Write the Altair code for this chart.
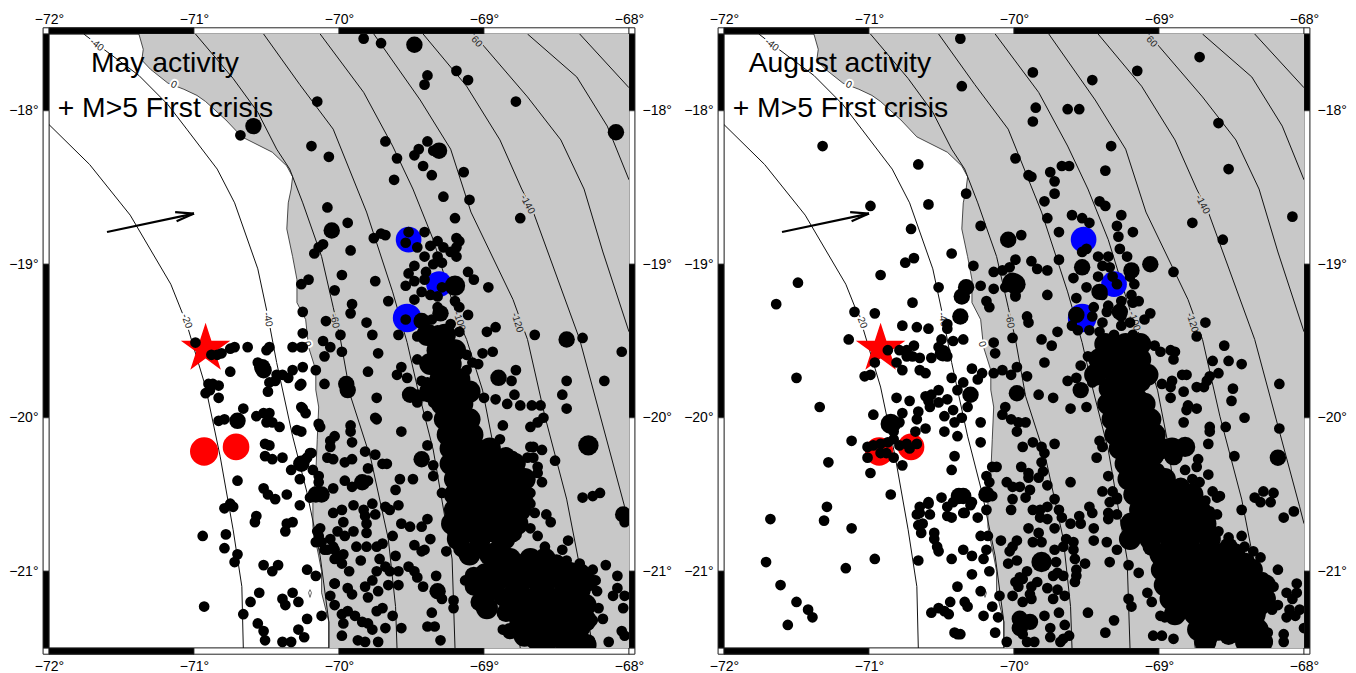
import altair as alt
import pandas as pd

coast = [(-71.38,-17.5),(-71.35,-17.60),(-71.36,-17.67),(-71.30,-17.73),(-71.18,-17.82),(-71.07,-17.86),(-70.98,-17.90),(-70.92,-17.94),(-70.78,-18.06),(-70.67,-18.17),(-70.46,-18.27),(-70.36,-18.36),(-70.32,-18.43),(-70.33,-18.51),(-70.35,-18.60),(-70.36,-18.77),(-70.32,-18.95),(-70.29,-19.10),(-70.29,-19.25),(-70.23,-19.36),(-70.21,-19.54),(-70.16,-19.69),(-70.16,-19.82),(-70.14,-19.93),(-70.15,-20.14),(-70.16,-20.36),(-70.18,-20.53),(-70.18,-20.71),(-70.16,-20.81),(-70.14,-20.90),(-70.12,-21.0),(-70.12,-21.14),(-70.07,-21.33),(-70.07,-21.5)]
island = [(-70.20,-21.12),(-70.19,-21.14),(-70.20,-21.17),(-70.21,-21.14),(-70.20,-21.12)]

contours = {
 "-20": [(-72.0,-18.09),(-71.72,-18.35),(-71.44,-18.68),(-71.16,-19.13),(-71.05,-19.39),(-70.92,-19.80),(-70.82,-20.25),(-70.73,-20.73),(-70.67,-21.10),(-70.66,-21.5)],
 "-40": [(-71.76,-17.5),(-71.65,-17.58),(-71.38,-17.77),(-71.18,-17.96),(-71.05,-18.12),(-70.84,-18.38),(-70.72,-18.60),(-70.56,-19.03),(-70.49,-19.34),(-70.43,-19.64),(-70.32,-20.12),(-70.22,-20.49),(-70.13,-20.90),(-70.07,-21.33),(-70.07,-21.5)],
 "-60": [(-70.99,-17.5),(-70.73,-17.79),(-70.56,-18.01),(-70.43,-18.25),(-70.34,-18.38),(-70.25,-18.60),(-70.12,-18.95),(-70.04,-19.28),(-69.99,-19.49),(-69.92,-19.86),(-69.78,-20.27),(-69.66,-20.79),(-69.61,-21.23),(-69.60,-21.5)],
 "-80": [(-70.52,-17.5),(-70.27,-17.83),(-70.04,-18.12),(-69.81,-18.66),(-69.63,-19.18),(-69.53,-19.51),(-69.46,-19.80),(-69.35,-20.21),(-69.22,-20.92),(-69.20,-21.5)],
 "-100": [(-70.13,-17.5),(-69.83,-17.88),(-69.63,-18.23),(-69.49,-18.51),(-69.35,-18.84),(-69.18,-19.36),(-69.12,-19.49),(-69.01,-19.82),(-68.94,-20.16),(-68.75,-21.5)],
 "-120": [(-69.76,-17.5),(-69.44,-17.93),(-69.23,-18.25),(-69.09,-18.66),(-68.80,-19.23),(-68.70,-19.49),(-68.58,-19.99),(-68.43,-20.53),(-68.35,-20.92),(-68.25,-21.5)],
 "-140": [(-69.42,-17.5),(-69.12,-17.84),(-68.89,-18.19),(-68.74,-18.51),(-68.66,-18.66),(-68.34,-19.49),(-68.03,-20.58),(-68.0,-20.69)],
 "-160": [(-69.07,-17.5),(-69.0,-17.58),(-68.70,-17.91),(-68.47,-18.19),(-68.31,-18.51),(-68.18,-18.92),(-68.0,-19.44)],
 "-180": [(-68.70,-17.5),(-68.36,-17.78),(-68.15,-18.10),(-68.0,-18.45)],
 "-200": [(-68.34,-17.5),(-68.0,-17.85)],
}
contour_labels = [
 ("-40",-71.67,-17.57,38,"white"),("0",-71.14,-17.83,25,"white"),("-20",-71.05,-19.37,70,"white"),
 ("-40",-70.49,-19.36,78,"white"),("-60",-70.03,-19.37,78,"#c8c8c8"),("0",-70.22,-19.52,75,"white"),
 ("-100",-69.17,-19.37,72,"#c8c8c8"),("-120",-68.77,-19.38,73,"#c8c8c8"),("-140",-68.70,-18.61,62,"#c8c8c8"),
 ("60",-69.05,-17.55,48,"#c8c8c8"),
]
arrow = {"shaft":[(-71.60,-18.79),(-71.0,-18.67)],"a":[(-71.13,-18.66),(-71.0,-18.67)],"b":[(-71.12,-18.72),(-71.0,-18.67)]}
blue_lon=[-69.52,-69.31,-69.53]; blue_lat=[-18.84,-19.13,-19.35]; blue_area=[660,660,820]
red_lon=[-70.93,-70.71]; red_lat=[-20.22,-20.19]; red_area=[800,710]
star_lon=[-70.92]; star_lat=[-19.55]
STAR="M0,-1L0.2245,-0.309L0.951,-0.309L0.363,0.118L0.588,0.809L0,0.382L-0.588,0.809L-0.363,0.118L-0.951,-0.309L-0.2245,-0.309Z"

may_small = [(-70.68,-18.16),(-70.15,-17.94),(-70.19,-18.23),(-70.07,-18.30),(-69.83,-17.53),(-69.71,-17.56),(-69.39,-17.77),(-69.41,-17.83),(-69.19,-17.74),(-69.11,-17.80),(-68.78,-17.94),(-69.68,-18.20),(-69.60,-18.31),(-69.39,-18.20),(-69.45,-18.25),(-69.48,-18.29),(-69.35,-18.26),(-69.42,-18.36),(-69.36,-18.42),(-69.14,-18.40),(-69.62,-18.45),(-69.28,-18.56),(-69.10,-18.58),(-70.08,-18.63),(-69.20,-18.70),(-68.75,-18.70),(-69.94,-18.73),(-69.76,-18.83),(-69.71,-18.80),(-69.68,-18.81),(-69.52,-18.79),(-69.54,-18.86),(-69.41,-18.79),(-69.46,-18.89),(-69.32,-18.85),(-69.37,-18.88),(-69.28,-18.89),(-69.19,-18.83),(-69.17,-18.85),(-69.19,-18.89),(-69.23,-18.92),(-69.19,-18.95),(-69.41,-18.95),(-69.32,-18.95),(-69.48,-19.01),(-69.29,-18.99),(-69.35,-19.00),(-69.52,-19.06),(-69.40,-19.05),(-69.48,-19.11),(-69.41,-19.10),(-69.11,-19.05),(-69.07,-19.10),(-68.97,-19.15),(-69.54,-19.14),(-69.29,-19.15),(-69.43,-19.18),(-69.37,-19.20),(-69.32,-19.21),(-69.48,-19.23),(-69.20,-19.24),(-69.17,-19.28),(-69.11,-19.33),(-69.32,-19.28),(-69.54,-19.36),(-69.36,-19.36),(-69.23,-19.39),(-69.32,-19.43),(-69.26,-19.46),(-69.17,-19.44),(-68.98,-19.44),(-68.92,-19.41),(-68.65,-19.46),(-68.32,-19.48),
(-70.17,-18.93),(-70.14,-18.89),(-70.11,-18.87),(-69.92,-18.91),(-70.21,-19.10),(-70.26,-19.13),(-69.98,-19.07),(-70.03,-19.17),(-69.75,-19.11),(-69.66,-19.24),(-69.91,-19.26),(-69.92,-19.32),(-69.81,-19.38),(-70.09,-19.37),(-70.25,-19.31),(-70.25,-19.45),(-69.99,-19.46),(-69.77,-19.46),(-69.59,-19.46),(-69.46,-19.47),
(-70.25,-19.54),(-70.11,-19.50),(-70.06,-19.54),(-70.10,-19.60),(-69.98,-19.57),(-69.73,-19.58),(-69.80,-19.70),(-70.25,-19.67),(-70.16,-19.69),(-70.10,-19.78),(-70.26,-19.78),(-69.74,-19.87),(-69.75,-20.0),(-69.74,-20.01),(-70.25,-19.94),(-70.14,-20.04),(-70.13,-20.06),(-70.26,-20.09),(-69.92,-20.05),(-69.92,-20.09),(-69.57,-20.09),(-70.03,-20.12),(-70.06,-20.15),(-70.06,-20.19),(-69.91,-20.16),(-69.82,-20.22),(-69.75,-20.24),(-70.19,-20.23),(-70.22,-20.26),(-70.25,-20.30),(-70.08,-20.26),(-70.04,-20.27),(-69.96,-20.29),(-69.91,-20.27),(-69.70,-20.30),(-69.67,-20.30),(-69.80,-20.33),(-69.39,-20.18),(-69.60,-19.72),(-69.57,-19.67),(-69.53,-19.74),(-69.46,-19.85),(-69.42,-19.86),(-69.46,-19.90),(-69.46,-19.62),(-69.41,-19.64),(-69.43,-19.76),(-69.39,-19.77),(-69.35,-19.90),(-69.39,-19.99),(-69.35,-20.31),(-69.35,-20.38),(-69.29,-20.49),(-68.78,-19.69),(-68.81,-19.76),(-68.94,-19.57),(-69.01,-19.58),(-69.12,-19.59),(-69.08,-19.64),(-69.04,-19.65),(-69.12,-19.69),(-68.92,-19.88),(-69.0,-19.87),(-68.79,-19.85),(-68.84,-19.91),(-68.75,-19.92),(-68.67,-19.92),(-68.61,-19.92),(-68.59,-20.0),(-68.63,-20.03),(-68.68,-20.06),(-68.43,-19.76),(-68.17,-19.76),(-68.46,-19.85),(-68.43,-19.94),(-68.05,-19.57),(-68.51,-20.28),(-68.66,-20.19),(-68.60,-20.21),(-68.68,-20.19),(-68.70,-20.26),(-68.66,-20.26),(-68.63,-20.32),(-68.63,-20.36),(-68.60,-20.42),(-68.68,-20.49),(-68.32,-20.52),(-68.25,-20.51),(-68.20,-20.49),(-68.03,-20.68),(-68.68,-20.56),(-68.65,-20.62),(-68.57,-20.63),(-68.54,-20.68),(-68.68,-20.72),(-68.63,-20.77),(-68.42,-20.80),(-68.46,-20.86),(-68.58,-20.84),(-68.87,-20.05),(-68.89,-20.14),(-68.80,-20.25),(-68.84,-20.24),(-68.75,-20.30),
(-70.99,-19.51),(-70.88,-19.59),(-70.84,-19.59),(-70.81,-19.58),(-70.75,-19.55),(-70.72,-19.54),(-70.63,-19.54),(-70.50,-19.56),(-70.48,-19.54),(-70.32,-19.54),(-70.26,-19.54),(-70.75,-19.70),(-70.56,-19.64),(-70.43,-19.72),(-70.39,-19.72),(-70.32,-19.69),(-70.35,-19.74),(-70.48,-19.77),(-70.44,-19.76),(-70.27,-19.79),(-70.49,-19.83),(-70.90,-19.78),(-70.87,-19.78),(-70.83,-19.79),(-70.89,-19.82),(-70.92,-19.84),(-70.83,-19.87),(-70.66,-19.94),(-70.26,-19.93),(-70.23,-19.97),(-70.57,-19.99),(-70.52,-19.97),(-70.48,-19.97),(-70.83,-20.02),(-70.79,-20.01),(-70.50,-20.03),(-70.46,-20.03),(-70.41,-20.06),(-70.29,-20.08),(-70.51,-20.17),(-70.48,-20.18),(-70.51,-20.25),(-70.46,-20.27),(-70.39,-20.26),(-70.20,-20.23),(-70.23,-20.27),(-70.18,-20.34),(-70.14,-20.38),(-70.14,-20.42),(-70.33,-20.34),(-70.27,-20.40),(-70.70,-20.41),(-70.52,-20.46),(-70.49,-20.50),(-70.44,-20.53),(-70.36,-20.50),(-70.75,-20.56),(-70.79,-20.59),(-70.73,-20.58),(-70.20,-20.52),(-70.04,-20.46),(-70.27,-20.57),(-70.04,-20.62),(-70.57,-20.64),(-70.58,-20.68),(-70.32,-20.68),(-70.36,-20.69),(-70.37,-20.74),(-70.94,-20.77),(-70.78,-20.76),(-70.79,-20.85),(-70.70,-20.89),(-70.72,-20.94),(-70.52,-20.96),(-70.42,-20.96),(-70.46,-21.0),(-70.22,-20.99),(-70.16,-21.03),(-70.55,-21.14),(-70.32,-21.14),(-70.39,-21.18),(-70.37,-21.22),(-70.28,-21.20),(-70.61,-21.20),(-70.93,-21.23),(-70.66,-21.28),(-70.06,-21.16),(-70.03,-21.22),(-70.12,-21.29),(-70.22,-21.31),(-70.56,-21.34),(-70.52,-21.39),(-70.28,-21.38),(-70.24,-21.43),(-70.51,-21.45),(-70.39,-21.46),(-70.33,-21.46),(-70.15,-20.74),(-70.13,-20.72),(-70.16,-20.81),(-70.12,-20.81),(-70.06,-20.79),(-70.08,-20.86),(-70.03,-20.86),(-70.03,-20.92),(-70.03,-21.08),
(-70.12,-20.50),(-69.96,-20.41),(-69.91,-20.45),(-69.80,-20.41),(-69.58,-20.40),(-69.49,-20.40),(-69.61,-20.47),(-69.98,-20.60),(-69.97,-20.68),(-69.90,-20.57),(-69.83,-20.60),(-69.77,-20.56),(-69.75,-20.63),(-69.82,-20.64),(-69.81,-20.69),(-69.81,-20.75),(-69.68,-20.58),(-69.65,-20.60),(-69.59,-20.57),(-69.57,-20.69),(-69.51,-20.71),(-69.43,-20.71),(-69.39,-20.66),(-70.14,-20.77),(-70.01,-20.74),(-69.96,-20.77),(-69.90,-20.74),(-70.10,-20.86),(-70.04,-20.84),(-69.97,-20.89),(-69.88,-20.84),(-69.81,-20.84),(-69.74,-20.84),(-69.70,-20.82),(-69.63,-20.77),(-69.72,-20.92),(-69.61,-20.90),(-69.48,-20.83),(-69.41,-20.86),(-69.43,-20.87),(-69.37,-20.79),(-69.26,-20.87),(-70.01,-20.91),(-69.98,-20.95),(-69.93,-21.0),(-69.85,-20.93),(-69.74,-21.0),(-69.68,-20.97),(-69.65,-21.0),(-69.59,-21.0),(-69.52,-20.97),(-69.48,-21.0),(-69.46,-21.04),(-69.33,-21.03),(-70.03,-21.08),(-69.94,-21.11),(-69.91,-21.15),(-69.82,-21.10),(-69.77,-21.06),(-69.80,-21.17),(-69.73,-21.13),(-69.66,-21.09),(-69.59,-21.09),(-69.42,-21.10),(-69.29,-21.18),(-69.21,-21.19),(-69.21,-21.24),(-69.13,-21.06),(-69.98,-21.28),(-69.94,-21.26),(-69.89,-21.29),(-69.84,-21.33),(-69.80,-21.34),(-69.97,-21.34),(-69.77,-21.38),(-69.74,-21.26),(-69.70,-21.24),(-69.63,-21.29),(-69.68,-21.37),(-69.57,-21.37),(-69.36,-21.27),(-69.39,-21.36),(-69.34,-21.36),(-69.98,-21.42),(-69.87,-21.45),(-69.82,-21.46),(-69.73,-21.46),(-69.30,-21.45),(-68.87,-21.38),(-68.75,-21.43),(-68.67,-21.43),(-68.59,-21.48),(-68.25,-20.99),(-68.16,-20.96),(-68.08,-21.03),(-68.23,-21.06),(-68.22,-21.13),(-68.29,-21.10),(-68.11,-21.16),(-68.08,-21.11),(-68.03,-21.16),(-68.04,-21.24),(-68.21,-21.24),(-68.18,-21.31),(-68.05,-21.39),(-68.03,-21.42),(-68.14,-21.46),(-68.25,-21.32),(-68.27,-21.45),(-68.34,-20.95),(-68.43,-20.93)]
may_medium = [(-70.59,-18.10),(-69.48,-17.57),(-68.09,-18.14),(-69.31,-18.26),(-70.05,-18.78),(-69.30,-19.32),(-69.43,-19.37),(-68.43,-19.49),(-69.95,-19.78),(-69.94,-19.82),(-69.51,-19.85),(-68.90,-19.74),(-69.43,-20.27),(-68.04,-20.63),(-70.53,-19.67),(-70.52,-19.69),(-70.70,-20.02),(-70.26,-20.30),(-70.16,-20.50),(-70.12,-20.50),(-69.84,-20.42),(-69.32,-21.13),(-68.82,-21.39)]
may_big = [(-69.20,-19.14),(-68.28,-20.18)]
may_large = [(-68.98,-21.24),
(-69.39,-19.46),(-69.27,-19.46),(-69.32,-19.56),(-69.20,-19.56),(-69.37,-19.65),(-69.23,-19.65),(-69.30,-19.75),(-69.17,-19.75),(-69.37,-19.83),(-69.22,-19.83),(-69.10,-19.83),(-69.29,-19.91),(-69.15,-19.91),(-69.27,-20.01),(-69.10,-20.01),(-69.25,-20.11),(-69.08,-20.11),(-69.23,-20.20),(-69.06,-20.20),(-68.96,-20.20),(-69.23,-20.30),(-69.08,-20.30),(-68.92,-20.30),(-68.79,-20.30),(-69.20,-20.40),(-69.04,-20.40),(-68.89,-20.40),(-68.72,-20.40),(-69.20,-20.50),(-69.03,-20.50),(-68.86,-20.50),(-68.75,-20.50),(-69.20,-20.60),(-69.04,-20.60),(-68.89,-20.60),(-68.75,-20.60),(-69.22,-20.69),(-69.06,-20.69),(-68.89,-20.69),(-68.77,-20.69),(-69.18,-20.79),(-69.03,-20.79),(-68.86,-20.79),(-69.10,-20.89),(-68.96,-20.89),(-68.82,-20.92),(-68.68,-20.92),(-68.58,-20.92),(-68.99,-21.02),(-68.82,-21.02),(-68.65,-21.02),(-68.48,-21.02),(-68.34,-21.02),(-68.96,-21.12),(-68.78,-21.12),(-68.61,-21.12),(-68.44,-21.12),(-68.34,-21.12),(-68.78,-21.22),(-68.61,-21.22),(-68.44,-21.22),(-68.30,-21.22),(-68.75,-21.32),(-68.58,-21.32),(-68.41,-21.32),(-68.30,-21.32),(-68.72,-21.42),(-68.54,-21.42),(-68.37,-21.42),(-68.58,-21.48),(-68.41,-21.48),(-68.30,-21.48)]
may_fill = [(-69.29,-19.60),(-69.28,-19.70),(-69.27,-19.80),(-69.20,-19.95),(-69.17,-20.05),(-69.15,-20.15),(-69.15,-20.25),(-69.0,-20.25),(-68.85,-20.25),(-69.13,-20.35),(-68.97,-20.35),(-68.80,-20.35),(-69.12,-20.45),(-68.95,-20.45),(-68.80,-20.45),(-69.12,-20.55),(-68.96,-20.55),(-68.82,-20.55),(-68.72,-20.55),(-69.13,-20.65),(-68.97,-20.65),(-68.83,-20.65),(-69.12,-20.75),(-68.95,-20.75),(-68.80,-20.75),(-69.15,-20.85),(-69.03,-20.85),(-68.90,-20.85),(-68.90,-20.95),(-68.75,-20.95),(-68.63,-20.95),(-68.50,-20.95),(-68.90,-21.0),(-68.73,-21.0),(-68.56,-21.0),(-68.40,-21.0),(-68.90,-21.07),(-68.73,-21.07),(-68.56,-21.07),(-68.40,-21.07),(-68.28,-21.07),(-68.87,-21.17),(-68.70,-21.17),(-68.52,-21.17),(-68.37,-21.17),(-68.85,-21.27),(-68.67,-21.27),(-68.50,-21.27),(-68.35,-21.27),(-68.65,-21.37),(-68.48,-21.37),(-68.33,-21.37),(-68.65,-21.45),(-68.47,-21.45),(-69.07,-21.03),(-69.07,-21.10),(-69.03,-21.20)]

aug_small = [(-68.72,-17.65),(-69.15,-17.74),(-69.46,-17.80),(-69.87,-17.75),(-70.37,-17.53),(-70.36,-17.84),(-69.85,-17.98),(-69.87,-18.07),(-69.63,-17.99),(-69.55,-17.99),(-68.59,-18.08),(-69.33,-18.23),(-69.37,-18.39),(-68.52,-18.38),(-69.99,-18.31),(-70.66,-18.35),(-71.32,-18.23),(-69.90,-18.42),(-69.88,-18.43),(-69.75,-18.40),(-69.72,-18.46),(-69.67,-18.36),(-69.62,-18.36),(-69.72,-18.54),(-70.33,-18.54),(-69.41,-18.59),(-69.79,-18.59),(-70.99,-18.62),(-70.59,-18.61),(-70.71,-18.77),(-70.23,-18.75),(-70.75,-18.99),(-70.69,-18.96),(-70.43,-18.93),(-70.28,-19.01),(-71.49,-19.12),(-71.64,-19.26),(-70.92,-19.07),(-70.52,-19.15),(-70.14,-19.05),(-70.08,-19.04),(-70.03,-19.02),(-70.23,-19.14),(-70.14,-19.16),(-70.06,-19.15),(-69.99,-19.20),(-70.19,-19.24),(-70.17,-19.28),(-70.70,-19.25),(-71.10,-19.31),(-70.96,-19.32),(-70.77,-19.40),(-70.67,-19.41),(-70.59,-19.42),(-70.46,-19.39),(-70.46,-19.42),(-71.14,-19.49),(-70.35,-19.49),(-70.42,-19.50),(-70.50,-19.49),(-70.14,-19.51),(-70.13,-19.58),(-70.01,-19.48),(-70.69,-19.53),(-70.74,-19.56),(-70.79,-19.56),(-70.87,-19.56),(-70.52,-19.54),(-70.46,-19.60),(-70.57,-19.61),(-70.65,-19.61),(-70.70,-19.60),(-70.74,-19.60),(-70.81,-19.64),(-70.77,-19.69),(-70.96,-19.64),(-70.99,-19.72),(-71.03,-19.73),(-70.65,-19.69),(-70.61,-19.71),(-70.29,-19.68),(-71.50,-19.74),(-70.43,-19.74),(-70.25,-19.75),(-70.22,-19.71),(-70.14,-19.71),(-70.08,-19.69),(-70.02,-19.72),(-69.98,-19.67),(-70.35,-19.77),(-70.39,-19.82),(-70.52,-19.82),(-70.32,-19.93),(-70.61,-19.86),(-70.57,-19.85),(-70.59,-19.89),(-70.81,-19.87),(-70.72,-19.89),(-70.66,-19.96),(-70.58,-19.93),(-70.52,-19.90),(-70.46,-19.88),(-71.34,-19.93),(-70.08,-19.98),(-70.06,-19.93),(-70.02,-20.01),(-69.97,-20.03),(-70.97,-19.98),(-70.77,-19.97),(-70.67,-20.01),(-70.48,-19.99),(-70.42,-19.95),(-70.41,-20.03),(-70.36,-20.0),(-70.23,-20.03),(-70.79,-20.03),(-70.83,-20.09),(-70.61,-20.07),(-70.68,-20.09),(-70.48,-20.09),(-70.39,-20.12),(-70.23,-20.16),(-71.12,-20.15),(-71.01,-20.19),(-70.97,-20.18),(-70.92,-20.17),(-70.87,-20.16),(-70.83,-20.14),(-70.88,-20.23),(-71.01,-20.26),(-70.92,-20.23),(-70.83,-20.26),(-70.79,-20.18),(-70.74,-20.17),(-70.67,-20.17),(-70.72,-20.20),(-70.77,-20.31),(-71.28,-20.29),(-70.99,-20.36),(-70.41,-20.25),(-70.43,-20.34),(-70.15,-20.32),(-70.12,-20.32),(-70.19,-20.38),(-70.17,-20.42),(-70.05,-20.42),(-70.01,-20.45),(-70.85,-20.50),(-70.50,-20.52),(-70.59,-20.55),(-70.29,-20.55),
(-69.37,-18.62),(-69.60,-18.68),(-69.53,-18.70),(-69.48,-18.73),(-69.77,-18.70),(-69.69,-18.79),(-69.26,-18.68),(-69.29,-18.75),(-69.18,-18.79),(-69.28,-18.82),(-69.95,-18.81),(-68.77,-18.73),(-68.08,-18.69),(-68.56,-18.84),(-68.90,-19.05),(-69.69,-18.97),(-69.99,-18.97),(-69.88,-18.98),(-69.84,-19.03),(-69.77,-19.04),(-69.50,-18.90),(-69.53,-18.92),(-69.42,-18.95),(-69.35,-18.95),(-69.39,-19.01),(-69.34,-19.02),(-69.27,-18.90),(-69.22,-18.95),(-69.42,-19.08),(-69.32,-19.08),(-69.29,-19.13),(-69.17,-19.13),(-69.20,-19.08),(-69.59,-19.09),(-69.50,-19.15),(-69.39,-19.20),(-69.19,-19.20),(-69.14,-19.24),(-69.18,-19.25),(-69.57,-19.22),(-69.77,-19.20),(-69.99,-19.21),(-69.35,-19.27),(-69.26,-19.24),(-69.45,-19.28),(-69.60,-19.40),(-69.56,-19.43),(-69.48,-19.43),(-69.41,-19.44),(-69.39,-19.38),(-69.46,-19.34),(-69.36,-19.31),(-69.26,-19.34),(-69.06,-19.32),(-69.10,-19.36),(-69.20,-19.38),(-69.26,-19.40),(-68.68,-19.38),(-68.74,-19.47),(-69.91,-19.34),(-69.90,-19.38),(-69.70,-19.44),(-69.81,-19.49),(-69.74,-19.53),(-69.79,-19.64),(-69.31,-19.46),(-69.29,-19.51),(-69.37,-19.51),(-69.18,-19.46),(-69.15,-19.52),(-69.03,-19.53),(-68.99,-19.57),(-68.92,-19.56),(-68.89,-19.57),(-68.90,-19.62),(-68.55,-19.53),(-68.63,-19.63),(-68.52,-19.63),(-68.43,-19.65),(-68.59,-19.71),(-68.65,-19.73),(-68.67,-19.76),(-68.84,-19.72),(-68.81,-19.72),(-68.91,-19.76),(-68.98,-19.78),(-68.92,-19.80),(-68.92,-19.87),(-68.83,-19.83),(-68.74,-19.80),(-68.69,-19.80),(-68.49,-19.81),(-68.50,-19.89),(-68.80,-19.92),(-68.81,-19.95),(-68.74,-19.94),(-68.41,-20.0),(-68.17,-19.78),(-68.54,-20.06),(-68.17,-20.07),(-68.83,-20.03),(-68.65,-20.06),(-68.65,-20.09),(-68.66,-20.17),(-68.48,-20.25),(-68.73,-20.27),(-68.74,-20.32),(-68.82,-20.34),(-68.66,-20.37),(-68.63,-20.48),(-68.58,-20.51),(-68.72,-20.42),(-68.77,-20.40),(-68.28,-20.48),(-68.21,-20.49),(-68.34,-20.52),(-68.23,-20.55),(-69.63,-19.76),(-69.54,-19.66),(-69.57,-19.74),(-69.46,-19.77),(-69.49,-19.60),(-69.42,-19.59),(-69.83,-19.85),(-69.73,-19.87),(-69.61,-19.94),(-69.50,-19.93),(-69.91,-19.73),(-69.92,-20.03),(-69.98,-20.09),(-69.94,-20.19),(-69.87,-20.16),(-69.81,-20.19),(-69.79,-20.23),(-69.81,-20.29),(-69.72,-20.17),(-69.80,-20.35),(-69.83,-20.39),(-69.95,-20.32),(-69.90,-20.36),(-69.90,-20.39),(-69.77,-20.44),(-69.96,-20.45),(-69.89,-20.47),(-69.92,-20.52),(-70.01,-20.53),(-69.61,-20.42),(-69.72,-20.53),(-69.41,-20.15),(-69.39,-20.19),(-69.43,-20.26),(-69.35,-20.38),(-69.39,-20.48),(-69.32,-20.48),(-69.29,-20.52),
(-70.34,-20.62),(-70.25,-20.65),(-70.15,-20.51),(-70.19,-20.60),(-70.02,-20.60),(-69.87,-20.60),(-69.82,-20.60),(-69.77,-20.58),(-69.69,-20.60),(-69.82,-20.65),(-69.77,-20.66),(-69.72,-20.72),(-69.67,-20.65),(-69.61,-20.69),(-69.55,-20.64),(-69.54,-20.69),(-69.48,-20.58),(-69.46,-20.62),(-69.45,-20.72),(-69.45,-20.80),(-69.34,-20.55),(-69.29,-20.53),(-69.35,-20.66),(-69.35,-20.62),(-69.29,-20.63),(-69.90,-20.72),(-69.83,-20.75),(-70.23,-20.77),(-70.18,-20.77),(-70.09,-20.80),(-70.35,-20.86),(-70.29,-20.90),(-70.21,-20.92),(-70.19,-20.86),(-70.03,-20.87),(-69.98,-20.80),(-70.01,-20.84),(-69.87,-20.81),(-69.81,-20.81),(-69.64,-20.79),(-69.59,-20.81),(-69.72,-20.86),(-69.66,-20.84),(-69.59,-20.86),(-69.58,-20.92),(-70.04,-20.95),(-69.98,-20.93),(-69.71,-20.94),(-69.51,-20.95),(-69.34,-20.94),(-69.36,-20.81),(-69.29,-20.86),(-69.21,-20.96),(-69.14,-21.01),(-69.57,-20.99),(-69.58,-21.07),(-69.57,-21.03),(-69.66,-21.03),(-69.73,-21.03),(-69.70,-21.01),(-69.91,-21.0),(-69.96,-21.04),(-69.99,-21.07),(-69.97,-21.10),(-69.94,-21.05),(-69.84,-21.07),(-69.88,-21.10),(-69.77,-21.11),(-69.70,-21.12),(-69.89,-21.15),(-69.65,-21.16),(-69.73,-21.18),(-70.01,-21.16),(-69.94,-21.20),(-69.88,-21.18),(-70.10,-21.16),(-70.17,-21.0),(-70.29,-21.02),(-70.23,-21.13),(-70.34,-21.20),(-70.32,-21.23),(-70.15,-21.23),(-70.21,-21.29),(-70.11,-21.30),(-69.79,-21.29),(-69.69,-21.27),(-69.65,-21.35),(-69.75,-21.37),(-69.49,-21.27),(-69.31,-21.32),(-69.37,-21.40),(-69.21,-21.18),(-69.19,-21.23),(-69.08,-21.14),(-69.05,-21.20),(-68.99,-21.29),(-68.96,-21.30),(-69.04,-21.42),(-68.98,-21.42),(-68.90,-21.44),(-70.13,-21.40),(-70.37,-21.41),(-70.05,-21.46),(-69.94,-21.41),(-69.91,-21.46),(-69.86,-21.46),(-69.75,-21.43),(-69.68,-21.46),(-69.62,-21.42),(-69.66,-21.44),(-68.43,-20.60),(-68.14,-20.65),(-68.07,-20.61),(-68.30,-20.55),(-68.68,-20.54),(-68.60,-20.52),(-68.65,-20.61),(-68.60,-20.63),(-68.66,-20.67),(-68.59,-20.74),(-68.52,-20.78),(-68.43,-20.77),(-68.41,-20.84),(-68.35,-20.87),(-68.30,-20.91),(-68.18,-20.99),(-68.28,-21.04),(-68.21,-21.10),(-68.12,-21.14),(-68.05,-21.08),(-68.05,-21.14),(-68.08,-21.18),(-68.18,-21.22),(-68.10,-21.25),(-68.03,-21.25),(-68.06,-21.29),(-68.12,-21.30),(-68.22,-21.25),(-68.0,-21.37),(-68.14,-21.41),(-68.14,-21.46),(-68.25,-21.46),(-68.25,-21.40),(-68.30,-21.36),
(-71.68,-20.66),(-71.29,-20.58),(-71.31,-20.67),(-71.12,-20.72),(-71.71,-20.94),(-70.96,-20.92),(-71.16,-20.98),(-71.61,-21.09),(-71.50,-21.20),(-71.42,-21.25),(-71.39,-21.30),(-71.56,-21.35),(-70.65,-20.62),(-70.65,-20.58),(-70.59,-20.56),(-70.58,-20.63),(-70.67,-20.63),(-70.63,-20.69),(-70.66,-20.70),(-70.64,-20.75),(-70.55,-20.75),(-70.55,-20.79),(-70.53,-20.84),(-70.52,-20.87),(-70.42,-20.55),(-70.46,-20.58),(-70.46,-20.64),(-70.43,-20.65),(-70.35,-20.62),(-70.30,-20.57),(-70.43,-20.92),(-70.39,-21.10),(-70.44,-21.20),(-70.57,-21.27),(-70.52,-21.24),(-70.48,-21.26),(-70.45,-21.28),(-70.41,-21.40),(-70.39,-21.41),(-70.66,-20.93)]
aug_medium = [(-70.33,-19.15),(-70.36,-19.21),(-70.04,-18.84),(-70.37,-19.34),(-70.49,-19.58),(-70.30,-19.85),(-69.98,-19.84),(-70.38,-20.51),(-70.19,-20.50),(-69.06,-19.0),(-69.53,-19.02),(-69.19,-19.04),(-69.41,-19.18),(-69.57,-19.33),(-69.27,-19.31),(-69.54,-19.82),(-68.18,-20.26),(-70.35,-20.51),(-69.96,-21.31),(-69.89,-21.33),(-69.96,-21.37)]
aug_big = [(-70.85,-20.04),(-70.01,-19.12),(-69.99,-19.13),(-68.82,-20.19),(-69.81,-20.94)]
aug_large = [(-69.37,-19.52),(-69.23,-19.52),(-69.13,-19.52),(-69.41,-19.62),(-69.27,-19.62),(-69.13,-19.62),(-69.44,-19.72),(-69.30,-19.72),(-69.17,-19.72),(-69.08,-19.72),(-69.34,-19.81),(-69.20,-19.81),(-69.35,-19.91),(-69.21,-19.91),(-69.10,-19.91),(-69.32,-20.01),(-69.19,-20.01),(-69.06,-20.01),(-69.30,-20.11),(-69.17,-20.11),(-69.03,-20.11),(-69.27,-20.20),(-69.13,-20.20),(-68.99,-20.20),(-68.91,-20.20),(-69.23,-20.30),(-69.10,-20.30),(-69.21,-20.40),(-69.08,-20.40),(-68.96,-20.40),(-69.17,-20.50),(-69.03,-20.50),(-68.89,-20.50),(-68.77,-20.50),(-69.13,-20.60),(-68.99,-20.60),(-68.85,-20.60),(-68.72,-20.60),(-69.19,-20.69),(-69.06,-20.69),(-68.92,-20.69),(-68.79,-20.69),(-68.68,-20.69),(-69.20,-20.79),(-69.06,-20.79),(-68.92,-20.79),(-68.79,-20.79),(-68.65,-20.79),(-68.99,-20.89),(-68.85,-20.89),(-68.72,-20.89),(-68.58,-20.89),(-68.48,-20.89),(-68.98,-20.99),(-68.84,-20.99),(-68.70,-20.99),(-68.57,-20.99),(-68.43,-20.99),(-68.36,-20.99),(-68.96,-21.09),(-68.82,-21.09),(-68.68,-21.09),(-68.54,-21.09),(-68.41,-21.09),(-68.27,-21.09),(-68.92,-21.18),(-68.79,-21.18),(-68.65,-21.18),(-68.51,-21.18),(-68.37,-21.18),(-68.27,-21.18),(-68.89,-21.28),(-68.75,-21.28),(-68.61,-21.28),(-68.47,-21.28),(-68.34,-21.28),(-68.73,-21.38),(-68.59,-21.38),(-68.46,-21.38),(-68.32,-21.38),(-68.68,-21.46),(-68.40,-21.46),(-68.29,-21.46)]
aug_fill = [(-69.30,-19.57),(-69.18,-19.57),(-69.35,-19.67),(-69.20,-19.67),(-69.25,-19.77),(-69.12,-19.77),(-69.27,-19.86),(-69.15,-19.86),(-69.25,-19.96),(-69.13,-19.96),(-69.24,-20.06),(-69.10,-20.06),(-69.20,-20.15),(-69.06,-20.15),(-69.18,-20.25),(-69.03,-20.25),(-68.90,-20.25),(-69.16,-20.35),(-69.02,-20.35),(-69.12,-20.45),(-68.98,-20.45),(-68.85,-20.45),(-69.07,-20.55),(-68.92,-20.55),(-68.78,-20.55),(-69.12,-20.65),(-68.98,-20.65),(-68.85,-20.65),(-68.72,-20.65),(-69.13,-20.74),(-68.99,-20.74),(-68.85,-20.74),(-68.72,-20.74),(-69.05,-20.84),(-68.92,-20.84),(-68.78,-20.84),(-68.65,-20.84),(-68.52,-20.84),(-68.92,-20.94),(-68.78,-20.94),(-68.64,-20.94),(-68.50,-20.94),(-68.40,-20.94),(-68.90,-21.04),(-68.76,-21.04),(-68.62,-21.04),(-68.48,-21.04),(-68.34,-21.04),(-68.87,-21.14),(-68.73,-21.14),(-68.59,-21.14),(-68.45,-21.14),(-68.31,-21.14),(-68.85,-21.23),(-68.70,-21.23),(-68.56,-21.23),(-68.42,-21.23),(-68.30,-21.23),(-68.68,-21.33),(-68.54,-21.33),(-68.40,-21.33),(-68.65,-21.42),(-68.52,-21.42),(-68.38,-21.42)]

x_ticks=[-72,-71,-70,-69,-68]
y_ticks=[-18,-19,-20,-21]
lon_edges=[-72.04,-72,-71,-70,-69,-68,-67.96]
lat_edges=[-17.46,-17.5,-18,-19,-20,-21,-21.5,-21.54]
FONT="Liberation Sans"; GREY="#c8c8c8"

xs=alt.Scale(domain=[-72,-68],nice=False,zero=False)
ys=alt.Scale(domain=[-21.5,-17.5],nice=False,zero=False)

cells=[]
for i in range(len(lon_edges)-1):
    a,b=lon_edges[i],lon_edges[i+1]
    fill="black" if a in (-72,-70) else "white"
    cells.append((a,b,-17.5,-17.46,fill)); cells.append((a,b,-21.54,-21.5,fill))
for i in range(1,len(lat_edges)-2):
    a,b=lat_edges[i+1],lat_edges[i]
    fill="black" if a in (-18,-20,-21.5) else "white"
    cells.append((-72.04,-72,a,b,fill)); cells.append((-68,-67.96,a,b,fill))
frame=pd.DataFrame(cells,columns=["x1","x2","y1","y2","fill"])

def axis(orient,vals,pad):
    return alt.Axis(orient=orient,values=vals,title=None,grid=False,ticks=False,domain=False,
        labelPadding=pad,labelFontSize=14,labelFont=FONT,labelColor="black",labelFlush=False,labelOverlap=False,
        labelExpr="'\u2212'+abs(datum.value)+'\u00b0'")

X=lambda f:alt.X(f,scale=xs,axis=None)
Y=lambda f:alt.Y(f,scale=ys,axis=None)

def path_df(d):
    rows=[]
    for k,pts in d.items():
        for i,(a,b) in enumerate(pts):
            rows.append((k,i,a,b))
    return pd.DataFrame(rows,columns=["id","i","lon","lat"])

def panel(small,medium,big,large,fill,l1,l1_lon,l2_lon):
    land=pd.DataFrame(coast,columns=["lon","lat"]); land["i"]=range(len(land)); land["east"]=-68
    iso=pd.DataFrame(island,columns=["lon","lat"]); iso["i"]=range(len(iso))
    labs=pd.DataFrame(contour_labels,columns=["t","lon","lat","a","bg"])
    rows=[(a,b,115) for a,b in small]+[(a,b,270) for a,b in medium]+[(a,b,415) for a,b in big]+[(a,b,490) for a,b in large]+[(a,b,340) for a,b in fill]
    dots=pd.DataFrame(rows,columns=["lon","lat","s"])
    blue=pd.DataFrame({"lon":blue_lon,"lat":blue_lat,"s":blue_area})
    red=pd.DataFrame({"lon":red_lon,"lat":red_lat,"s":red_area})
    star=pd.DataFrame({"lon":star_lon,"lat":star_lat})
    txt=pd.DataFrame({"t":[l1,"+ M>5 First crisis"],"lon":[l1_lon,l2_lon],"lat":[-17.747,-18.043]})
    enc=dict(x=X("lon:Q"),y=Y("lat:Q"))
    layers=[
      alt.Chart(frame).mark_rect(stroke="#222",strokeWidth=0.8,clip=False).encode(
        x=alt.X("x1:Q",scale=xs,axis=axis("bottom",x_ticks,11)),x2="x2:Q",
        y=alt.Y("y1:Q",scale=ys,axis=axis("left",y_ticks,11)),y2="y2:Q",
        fill=alt.Fill("fill:N",scale=None)),
      alt.Chart(frame).mark_rect(stroke="#222",strokeWidth=0.8,clip=False).encode(
        x=alt.X("x1:Q",scale=xs,axis=axis("top",x_ticks,8)),x2="x2:Q",
        y=alt.Y("y1:Q",scale=ys,axis=axis("right",y_ticks,13)),y2="y2:Q",
        fill=alt.Fill("fill:N",scale=None)),
      alt.Chart(land).mark_area(orient="horizontal",color=GREY,clip=True).encode(x=X("lon:Q"),x2="east:Q",y=Y("lat:Q")),
      alt.Chart(path_df(contours)).mark_line(color="#111",strokeWidth=1,clip=True).encode(detail="id:N",order=alt.Order("i:Q"),**enc),
      alt.Chart(land).mark_line(color="#222",strokeWidth=0.8,clip=True).encode(order=alt.Order("i:Q"),**enc),
      alt.Chart(iso).mark_line(color="#444",strokeWidth=0.8,clip=True).encode(order=alt.Order("i:Q"),**enc),
      alt.Chart(labs).mark_text(font=FONT,fontSize=10,strokeWidth=4,clip=True).encode(text="t:N",angle=alt.Angle("a:Q",scale=None),stroke=alt.Stroke("bg:N",scale=None),**enc),
      alt.Chart(labs).mark_text(font=FONT,fontSize=10,color="#222",clip=True).encode(text="t:N",angle=alt.Angle("a:Q",scale=None),**enc),
      alt.Chart(star).mark_point(shape=STAR,filled=True,color="#ff0000",size=2704,opacity=1).encode(**enc),
      alt.Chart(red).mark_circle(color="#ff0000",opacity=1).encode(size=alt.Size("s:Q",scale=None),**enc),
      alt.Chart(blue).mark_circle(color="#0000ff",opacity=1).encode(size=alt.Size("s:Q",scale=None),**enc),
      alt.Chart(dots).mark_circle(color="black",opacity=1,clip=True).encode(size=alt.Size("s:Q",scale=None),**enc),
      alt.Chart(txt).mark_text(font=FONT,fontSize=28.3,align="left",baseline="alphabetic",color="black").encode(text="t:N",**enc),
      alt.Chart(path_df(arrow)).mark_line(color="black",strokeWidth=2.2,clip=True).encode(detail="id:N",order=alt.Order("i:Q"),**enc),
    ]
    return alt.layer(*layers).resolve_axis(x="independent",y="independent").properties(width=580,height=614)

left=panel(may_small,may_medium,may_big,may_large,may_fill,"May activity",-71.71,-71.94)
right=panel(aug_small,aug_medium,aug_big,aug_large,aug_fill,"August activity",-71.83,-71.94)
chart=alt.hconcat(left,right,spacing=11).properties(padding={"left":0,"top":4,"right":0,"bottom":0}).configure_view(stroke=None)
chart.save("out.html",embed_options={"renderer":"svg","actions":False})
